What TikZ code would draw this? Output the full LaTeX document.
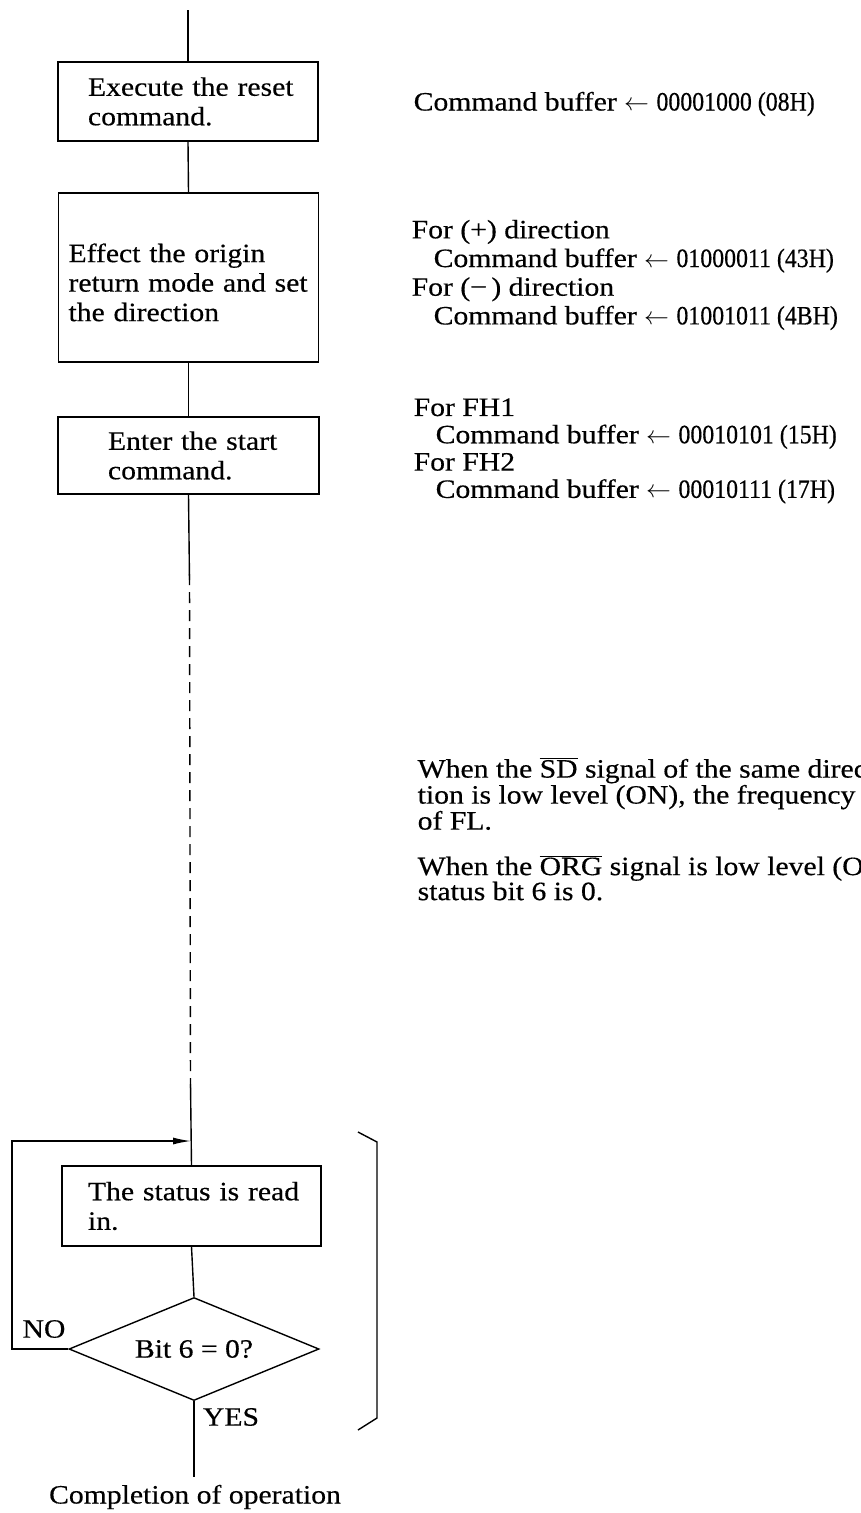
\documentclass[tikz,border=0pt]{standalone}
\usepackage{fontspec}
\setmainfont{Liberation Serif}[FakeStretch=1.12,FakeBold=0.4]
\newfontfamily\digitfont{Liberation Serif}[FakeStretch=0.9,FakeBold=0.4]
\usetikzlibrary{shapes.geometric,arrows.meta}
\newcommand\bodyfont{\fontsize{26.5}{29.5}\selectfont}
\newcommand\cmdline[2]{Command buffer $\leftarrow$ {\digitfont #1 (#2)}}
\begin{document}
\begin{tikzpicture}[x=1pt,y=-1pt,line width=1.4pt,
  every node/.style={font=\bodyfont},
  box/.style={draw,rectangle,align=left,inner ysep=0pt},
  dec/.style={draw,diamond,inner sep=0pt,shape aspect=2.4,minimum width=250pt,minimum height=103pt},
  txt/.style={anchor=west,align=left,inner sep=0pt},
  lbl/.style={inner sep=0pt},
  flow/.style={line width=1.4pt},
  loopflow/.style={line width=1.4pt,-{Latex[length=18pt,width=7pt]}},
  dashflow/.style={line width=1.4pt,dash pattern=on 11pt off 7pt}]
\useasboundingbox (0,0) rectangle (861,1513);

% boxes
\node[box,minimum width=260pt,minimum height=79pt,inner xsep=30pt,text width=200pt] (b1) at (188,101.5) {\mbox{Execute the reset}\\\mbox{command.}};
\node[box,minimum width=260pt,minimum height=169pt,inner xsep=10pt,text width=240pt] (b2) at (188.5,277.5) {\rule{0pt}{28.5pt}\mbox{Effect the origin}\\\mbox{return mode and set}\\\mbox{the direction}};
\node[box,minimum width=261pt,minimum height=77pt,inner xsep=50pt,text width=161pt] (b3) at (188.5,455.5) {\mbox{Enter the start}\\\mbox{command.}};
\node[box,minimum width=259pt,minimum height=80pt,inner xsep=26pt,text width=207pt] (b4) at (191.5,1206) {\mbox{The status is read}\\\mbox{in.}};
\node[dec] (d) at (194,1349) {Bit 6 = 0?};

% connectors
\coordinate (top) at (188,10);
\coordinate (s1) at (189.5,580);
\coordinate (s2) at (190.5,1084);
\coordinate (lt) at (12,1141);
\coordinate (m) at (191,1141);
\coordinate (fin) at (194,1477);
\draw[flow] (top) -- (b1.north);
\draw[flow] (b1.south) -- (b2.north);
\draw[flow] (b2.south) -- (b3.north);
\draw[flow] (b3.south) -- (s1);
\draw[dashflow] ([yshift=6pt]s1) -- ([yshift=-4pt]s2);
\draw[flow] (s2) -- (b4.north);
\draw[flow] (b4.south) -- (d.north);
\draw[loopflow] (d.west) -| (lt) -- (m);
\draw[flow] (d.south) -- (fin);

% labels
\node[lbl] (no) at (44,1329) {NO};
\node[lbl] (yes) at (231,1417) {YES};
\node[lbl] (comp) at (195,1497) {Completion of operation};

% bracket
\draw[flow] (358,1132) -- (377,1142) -- (377,1418) -- (358,1430);

% right-hand texts
\node[txt] (t1) at (413,104) {\cmdline{00001000}{08H}};
\node[txt,font=\fontsize{26.5}{28.7}\selectfont] (t2) at (411,275) {For (+) direction\\\hspace*{22pt}\cmdline{01000011}{43H}\\For (−\,) direction\\\hspace*{22pt}\cmdline{01001011}{4BH}};
\node[txt,font=\fontsize{26.5}{27.3}\selectfont] (t3) at (413,451) {For FH1\\\hspace*{22pt}\cmdline{00010101}{15H}\\For FH2\\\hspace*{22pt}\cmdline{00010111}{17H}};
\node[txt,font=\fontsize{26.5}{26}\selectfont] (t4) at (417,794) {When the $\overline{\mbox{SD}}$ signal of the same direc\\tion is low level (ON), the frequency r\\of FL.};
\node[txt,font=\fontsize{26.5}{25}\selectfont] (t5) at (417,878) {When the $\overline{\mbox{ORG}}$ signal is low level (ON\\status bit 6 is 0.};
\end{tikzpicture}
\end{document}
